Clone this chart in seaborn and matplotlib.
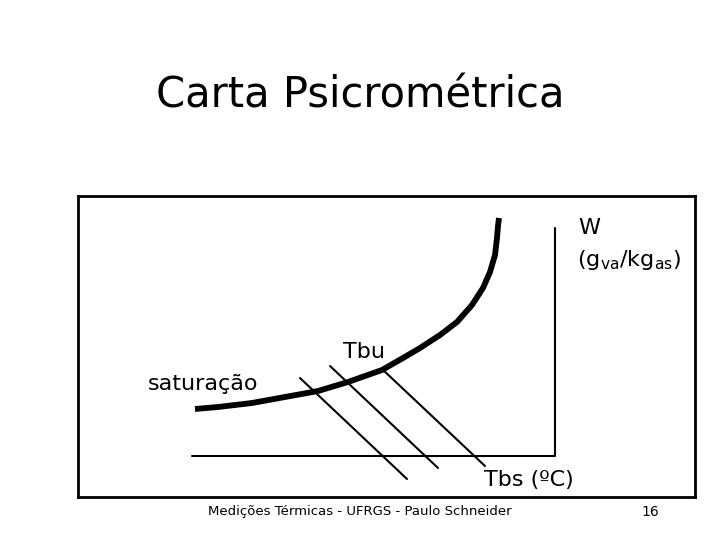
import numpy as np
import pandas as pd
import matplotlib
matplotlib.use("Agg")
import matplotlib.pyplot as plt
import seaborn as sns

# curva de saturacao (coordenadas, em pixels)
sat_x = [195, 218, 252, 285, 318, 348, 382, 403, 420, 440, 457, 472, 483, 490, 495, 497, 498, 499]
sat_y = [409, 407, 403, 397, 391, 382, 370, 358, 348, 335, 322, 305, 288, 272, 255, 238, 226, 218]

# linhas de Tbu (inicio e fim)
tbu_x0 = [300, 330, 382]
tbu_y0 = [378, 366, 369]
tbu_x1 = [407, 438, 485]
tbu_y1 = [479, 468, 466]

# eixos W e Tbs
eixo_x = [192, 555, 555]
eixo_y = [456, 456, 228]

titulo = "Carta Psicrométrica"
rodape = "Medições Térmicas - UFRGS - Paulo Schneider"
pagina = "16"

sns.set_style("white")
plt.rcParams['font.family'] = ['DejaVu Sans']
plt.rcParams['text.color'] = 'black'

fig = plt.figure(figsize=(7.2, 5.4), dpi=100)
# caixa do grafico (em px: 78..695 x 196..497)
ax = fig.add_axes([78/720, 1 - 497/540, (695-78)/720, (497-196)/540])
ax.set_xlim(78, 695)
ax.set_ylim(497, 196)
for s in ax.spines.values():
    s.set_visible(True)
    s.set_color("black")
    s.set_linewidth(2)
ax.set_xticks([])
ax.set_yticks([])

df_sat = pd.DataFrame({"x": sat_x, "y": sat_y})
sns.lineplot(data=df_sat, x="x", y="y", sort=False, estimator=None, color="black",
             lw=4.2, ax=ax, solid_capstyle="butt", solid_joinstyle="round")

df_eixo = pd.DataFrame({"x": eixo_x, "y": eixo_y})
sns.lineplot(data=df_eixo, x="x", y="y", sort=False, estimator=None, color="black",
             lw=1.5, ax=ax)

for i in range(len(tbu_x0)):
    d = pd.DataFrame({"x": [tbu_x0[i], tbu_x1[i]], "y": [tbu_y0[i], tbu_y1[i]]})
    sns.lineplot(data=d, x="x", y="y", sort=False, estimator=None, color="black", lw=1.5, ax=ax)

ax.set_xlabel("")
ax.set_ylabel("")

ax.text(148, 384, "saturação", fontsize=16, va="center", ha="left")
ax.text(343, 352, "Tbu", fontsize=16, va="center", ha="left")
ax.text(484, 480, "Tbs (ºC)", fontsize=16, va="center", ha="left")
ax.text(578, 228, "W", fontsize=16, va="center", ha="left")
ax.text(577, 260, r"(g$_{\mathregular{va}}$/kg$_{\mathregular{as}}$)", fontsize=16, va="center", ha="left")

fig.text(360/720, 1 - 95/540, titulo, fontsize=30, ha="center", va="center")
fig.text(208/720, 1 - 512/540, rodape, fontsize=9.5, ha="left", va="center")
fig.text(650/720, 1 - 512/540, pagina, fontsize=10, ha="center", va="center")

fig.savefig("out.png", dpi=100)
